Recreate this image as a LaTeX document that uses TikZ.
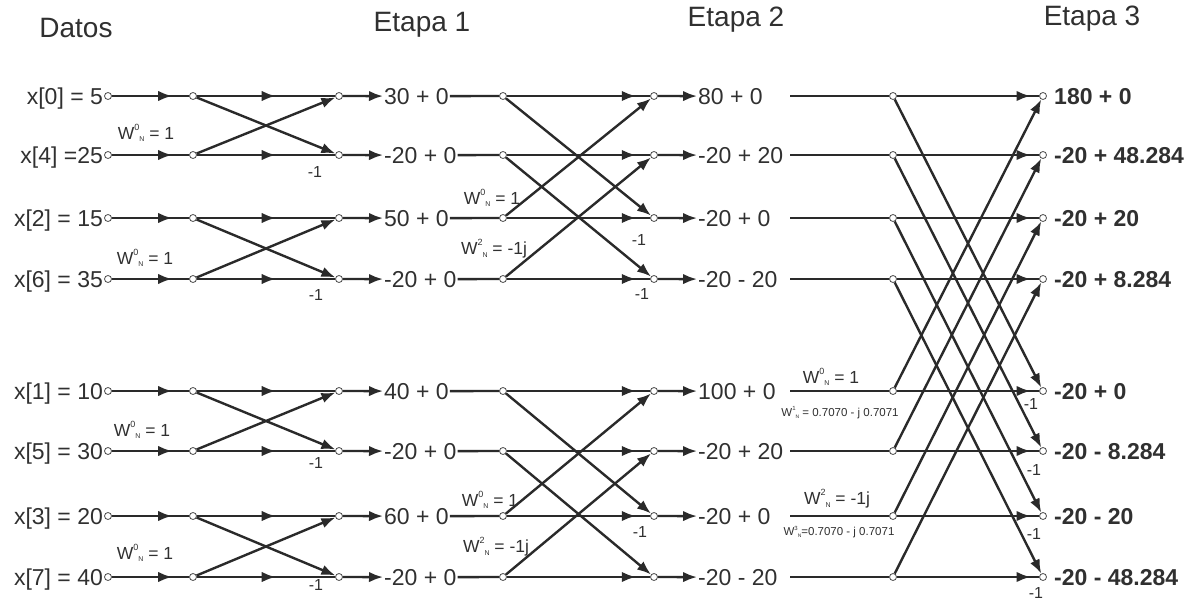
\documentclass[tikz,border=0pt]{standalone}
\usepackage{fontspec}
\setmainfont{Liberation Sans}
\usetikzlibrary{arrows.meta,decorations.markings}
\definecolor{ink}{HTML}{2A2A2A}
\definecolor{txt}{HTML}{303030}
\newcommand\Wn[3][9]{W\raisebox{0.5em}{\fontsize{#1}{#1}\selectfont #2}\raisebox{-0.15em}{\fontsize{#3}{#3}\selectfont N}}
\tikzset{
  dot/.style={circle,draw=ink!85,fill=white,inner sep=0pt,minimum size=7pt,line width=0.8pt},
  wire/.style={draw=ink,line width=2.4pt},
  arr/.style={-{Latex[length=14pt,width=10.5pt]}},
  midarr/.style={postaction={decorate},decoration={markings,mark=at position #1 with {\arrow{Latex[length=14pt,width=10.5pt]}}}},
  lab/.style={font=\fontsize{23}{24}\selectfont,text=txt,inner sep=1pt},
  blab/.style={font=\fontsize{23}{24}\selectfont\bfseries,text=txt,inner sep=1pt},
  hdr/.style={font=\fontsize{28}{30}\selectfont,text=txt},
  wl/.style={font=\fontsize{17.5}{18}\selectfont,text=txt,inner sep=0pt},
  ws/.style={font=\fontsize{11.5}{12}\selectfont,text=txt,inner sep=0pt},
  mo/.style={font=\fontsize{16}{16}\selectfont,text=txt,inner sep=0pt}
}
\begin{document}
\begin{tikzpicture}[x=1pt,y=-1pt]
\useasboundingbox (0,0) rectangle (1202,602);
% headers
\node[hdr] (hd) at (76,28) {Datos};
\node[hdr] (h1) at (422,25) {Etapa 1};
\node[hdr] (h2) at (736,20) {Etapa 2};
\node[hdr] (h3) at (1092,19) {Etapa 3};
% nodes per row
\foreach \i/\y/\tin/\ta/\tb/\tc in {
  0/96/{x[0] = 5}/{30 + 0}/{80 + 0}/{180 + 0},
  1/155/{x[4] =25}/{-20 + 0}/{-20 + 20}/{-20 + 48.284},
  2/218/{x[2] = 15}/{50 + 0}/{-20 + 0}/{-20 + 20},
  3/279/{x[6] = 35}/{-20 + 0}/{-20 - 20}/{-20 + 8.284},
  4/391/{x[1] = 10}/{40 + 0}/{100 + 0}/{-20 + 0},
  5/451/{x[5] = 30}/{-20 + 0}/{-20 + 20}/{-20 - 8.284},
  6/516/{x[3] = 20}/{60 + 0}/{-20 + 0}/{-20 - 20},
  7/577/{x[7] = 40}/{-20 + 0}/{-20 - 20}/{-20 - 48.284}} {
  \node[dot] (in\i) at (108,\y) {};
  \node[lab,anchor=base east] (x\i) at ([yshift=-8pt]in\i.west) {\tin};
  \node[dot] (a\i) at (193,\y) {};
  \node[dot] (b\i) at (339,\y) {};
  \node[lab,anchor=base west] (l\i) at (383,\y+8) {\ta};
  \node[dot] (c\i) at (503,\y) {};
  \node[dot] (d\i) at (654,\y) {};
  \node[lab,anchor=base west] (m\i) at (697,\y+8) {\tb};
  \coordinate (s\i) at (790,\y);
  \node[dot] (e\i) at (893,\y) {};
  \node[dot] (f\i) at (1043,\y) {};
  \node[blab,anchor=base west] (o\i) at (1053,\y+8) {\tc};
}
% horizontal wires
\foreach \i in {0,...,7} {
  \draw[wire,midarr=0.78] (in\i) -- (a\i);
  \draw[wire,midarr=0.57] (a\i) -- (b\i);
  \draw[wire,arr] (b\i) -- (l\i.west);
  \draw[wire] (l\i.east) -- (c\i);
  \draw[wire,midarr=0.9] (c\i) -- (d\i);
  \draw[wire,arr] (d\i) -- (m\i.west);
  \draw[wire] (s\i) -- (e\i);
  \draw[wire,midarr=0.94] (e\i) -- (f\i);
}
% crossings
\foreach \i/\j in {0/1,1/0,2/3,3/2,4/5,5/4,6/7,7/6} \draw[wire,arr] (a\i) -- (b\j);
\foreach \i/\j in {0/2,1/3,2/0,3/1,4/6,5/7,6/4,7/5} \draw[wire,arr] (c\i) -- (d\j);
\foreach \i/\j in {0/4,1/5,2/6,3/7,4/0,5/1,6/2,7/3} \draw[wire,arr] (e\i) -- (f\j);
% twiddle labels
\node[wl] (w1) at (146,133) {\Wn{0}{7} = 1};
\node[wl] (w2) at (145,258) {\Wn{0}{7} = 1};
\node[wl] (w3) at (142,430) {\Wn{0}{7} = 1};
\node[wl] (w4) at (145,553) {\Wn{0}{7} = 1};
\node[wl] (w5) at (492,198) {\Wn{0}{7} = 1};
\node[wl] (w6) at (494,249) {\Wn{2}{7} = -1j};
\node[wl] (w7) at (490,500) {\Wn{0}{7} = 1};
\node[wl] (w8) at (496,547) {\Wn{2}{7} = -1j};
\node[wl] (w9) at (831,377) {\Wn{0}{7} = 1};
\node[ws] (w10) at (840,413) {\Wn[6]{1}{5} = 0.7070 - j 0.7071};
\node[wl] (w11) at (837,499) {\Wn{2}{7} = -1j};
\node[ws] (w12) at (839,532) {\Wn[6]{3}{5}=0.7070 - j 0.7071};
% -1 labels
\foreach \n/\x/\y in {m1/315/172,m2/316/295,m3/316/463,m4/316/585,m5/639/240,m6/642/294,m7/640/532,m8/1031/404,m9/1034/470,m10/1034/534,m11/1036/593}
  \node[mo] (\n) at (\x,\y) {-1};
\end{tikzpicture}
\end{document}
